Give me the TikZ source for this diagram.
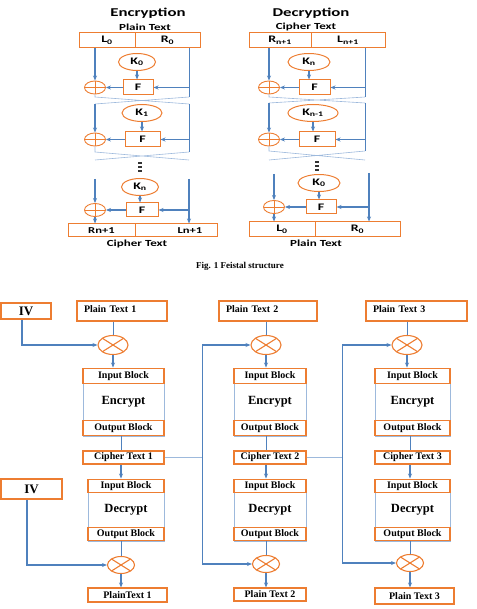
\documentclass[tikz,border=0pt]{standalone}
\usepackage{fontspec}
\setmainfont{Liberation Serif}
\newfontfamily\feis[FakeStretch=1.4]{Carlito}
\usetikzlibrary{positioning,arrows.meta,shapes.geometric,calc}
\definecolor{naranja}{HTML}{ED7D31}
\definecolor{azul}{HTML}{4F81BD}
\definecolor{celeste}{HTML}{9DB9DC}
\newcommand\tam[1]{\fontsize{#1}{#1}\selectfont}

\begin{document}
\begin{tikzpicture}[x=1pt,y=-1pt,
    caja/.style={draw=naranja,line width=1pt,inner sep=0pt,fill=white,font=\feis\bfseries\tam{10}},
    clave/.style={ellipse,draw=naranja,line width=1pt,inner sep=0pt,minimum height=17pt,
                  font=\feis\bfseries\tam{10}},
    suma/.style={ellipse,draw=naranja,line width=0.9pt,minimum width=21pt,minimum height=13pt,inner sep=0pt,
                 path picture={\draw[naranja,line width=0.9pt]
                   (path picture bounding box.north) -- (path picture bounding box.south)
                   (path picture bounding box.west) -- (path picture bounding box.east);}},
    titulo/.style={font=\feis\bfseries\tam{12}},
    rotulo/.style={font=\feis\bfseries\tam{9.3}},
    fl/.style={-{Stealth[length=5pt,width=4pt]},draw=azul,line width=1.2pt},
    ln/.style={draw=azul,line width=1pt},
    cruce/.style={draw=celeste,line width=0.6pt},
    bloque/.style={draw=naranja,line width=1.1pt,inner sep=0pt,fill=white,font=\bfseries\tam{10}},
    entrada/.style={bloque,minimum height=20pt,text depth=4pt,inner xsep=7pt,align=left},
    marco/.style={draw=celeste,line width=0.9pt,inner sep=0pt,font=\bfseries\tam{12.5}},
    xor/.style={ellipse,draw=naranja,line width=1.1pt,inner sep=0pt,minimum width=30pt,minimum height=19pt,
                path picture={\draw[naranja,line width=1.1pt]
                  ($(path picture bounding box.center)!0.707!(path picture bounding box.north east)$) --
                  ($(path picture bounding box.center)!0.707!(path picture bounding box.south west)$)
                  ($(path picture bounding box.center)!0.707!(path picture bounding box.north west)$) --
                  ($(path picture bounding box.center)!0.707!(path picture bounding box.south east)$);}}]
  \useasboundingbox (0,0) rectangle (476,609);

  % Feistel: encryption
  \node[titulo] (encTit) at (148,13) {Encryption};
  \node[rotulo] (encPT) at (145,27) {Plain Text};
  \node[caja,minimum width=56pt,minimum height=15pt] (eL0) at (107,40.5) {L\textsubscript{0}};
  \node[caja,minimum width=65pt,minimum height=15pt] (eR0) at (167.5,40.5) {R\textsubscript{0}};
  \node[clave,minimum width=37pt] (eK0) at (137,62) {K\textsubscript{0}};
  \node[caja,minimum width=30pt,minimum height=15pt] (eF0) at (138,87.5) {F};
  \node[suma] (eX0) at (95,87.5) {};
  \node[clave,minimum width=40pt] (eK1) at (142,113) {K\textsubscript{1}};
  \node[caja,minimum width=35pt,minimum height=15pt] (eF1) at (142.5,139.5) {F};
  \node[suma] (eX1) at (95,139.5) {};
  \node[clave,minimum width=37pt] (eKn) at (140,187) {K\textsubscript{n}};
  \node[caja,minimum width=32pt,minimum height=14pt] (eFn) at (142,210) {F};
  \node[suma] (eXn) at (95,210) {};
  \node[caja,minimum width=67pt,minimum height=13pt,font=\feis\bfseries\tam{9}] (eRn) at (101.5,230.5) {Rn+1};
  \node[caja,minimum width=82pt,minimum height=13pt,
        label={[font=\feis\bfseries\tam{9},xshift=14pt]center:Ln+1}] (eLn) at (176,230.5) {};
  \node[rotulo] (encCT) at (137,243.5) {Cipher Text};
  \foreach \k in {0,1,2} \fill[black!80] (137.5,162+4*\k) rectangle ++(4,2);

  \coordinate (eI1) at (95,97);  \coordinate (eD1) at (189,97);
  \coordinate (eI2) at (95,104); \coordinate (eD2) at (189,104);
  \coordinate (eI3) at (95,152); \coordinate (eD3) at (189,152);
  \coordinate (eI4) at (95,160); \coordinate (eD4) at (189,160);
  \coordinate (eI5) at (95,179); \coordinate (eD5) at (189,179);

  \draw[fl] (eX0 |- eL0.south) -- (eX0.north);
  \draw[ln] (eD1 |- eR0.south) -- (eD1);
  \draw[cruce] (eX0.south) -- (eI1) -- (eD2) (eD1) -- (eI2);
  \draw[fl] (eI2) -- (eX1.north);
  \draw[ln] (eD2) -- (eD3);
  \draw[cruce] (eX1.south) -- (eI3) -- (eD4) (eD3) -- (eI4);
  \draw[fl] (eI5) -- (eXn.north);
  \draw[fl] (eD5) -- (eD5 |- eLn.north);
  \draw[fl] (eXn.south) -- (eXn |- eRn.north);
  \foreach \r in {0,1,n} {
    \draw[fl] (eK\r.south) -- (eK\r.south |- eF\r.north);
    \draw[fl] (eF\r.west) -- (eX\r.east);
  }
  \foreach \f/\c in {eF0/eD1,eF1/eD3,eFn/eD5} \draw[fl] (\c |- \f) -- (\f.east);

  % Feistel: decryption
  \node[titulo] (decTit) at (311,13) {Decryption};
  \node[rotulo] (decCT) at (306,27) {Cipher Text};
  \node[caja,minimum width=62pt,minimum height=15pt] (dRn) at (280,40.5) {R\textsubscript{n+1}};
  \node[caja,minimum width=74pt,minimum height=15pt] (dLn) at (348,40.5) {L\textsubscript{n+1}};
  \node[clave,minimum width=42pt] (dK1) at (309,62) {K\textsubscript{n}};
  \node[caja,minimum width=31pt,minimum height=15pt] (dF1) at (314.5,87.5) {F};
  \node[suma] (dX1) at (269,87.5) {};
  \node[clave,minimum width=50pt] (dK2) at (313,113) {K\textsubscript{n-1}};
  \node[caja,minimum width=36pt,minimum height=15pt] (dF2) at (317,139.5) {F};
  \node[suma] (dX2) at (269,139.5) {};
  \node[clave,minimum width=42pt] (dK3) at (319,183) {K\textsubscript{0}};
  \node[caja,minimum width=30pt,minimum height=14pt] (dF3) at (321,207) {F};
  \node[suma] (dX3) at (274,207) {};
  \node[caja,minimum width=66pt,minimum height=15pt] (dL0) at (282,229.5) {L\textsubscript{0}};
  \node[caja,minimum width=85pt,minimum height=15pt] (dR0) at (357.5,229.5) {R\textsubscript{0}};
  \node[rotulo] (decPT) at (316,243.5) {Plain Text};
  \foreach \k in {0,1,2} \fill[black!80] (315,161+4*\k) rectangle ++(4,2);

  \coordinate (dI1) at (269,97);  \coordinate (dD1) at (365,97);
  \coordinate (dI2) at (269,103); \coordinate (dD2) at (365,103);
  \coordinate (dI3) at (269,151); \coordinate (dD3) at (365,151);
  \coordinate (dI4) at (269,160); \coordinate (dD4) at (365,160);
  \coordinate (dI5) at (274,174); \coordinate (dD5) at (369,173);

  \draw[fl] (dX1 |- dRn.south) -- (dX1.north);
  \draw[ln] (dD1 |- dLn.south) -- (dD1);
  \draw[cruce] (dX1.south) -- (dI1) -- (dD2) (dD1) -- (dI2);
  \draw[fl] (dI2) -- (dX2.north);
  \draw[ln] (dD2) -- (dD3);
  \draw[cruce] (dX2.south) -- (dI3) -- (dD4) (dD3) -- (dI4);
  \draw[fl] (dI5) -- (dX3.north);
  \draw[fl] (dD5) -- (dD5 |- dR0.north);
  \draw[fl] (dX3.south) -- (dX3 |- dL0.north);
  \foreach \r in {1,2,3} {
    \draw[fl] (dK\r.south) -- (dK\r.south |- dF\r.north);
    \draw[fl] (dF\r.west) -- (dX\r.east);
  }
  \foreach \f/\c in {dF1/dD1,dF2/dD3,dF3/dD5} \draw[fl] (\c |- \f) -- (\f.east);

  \node[font=\bfseries\tam{9}] (cap) at (240,266) {Fig. 1 Feistal structure};

  % CBC mode
  \node[bloque,minimum width=50pt,minimum height=16pt,font=\bfseries\tam{13}] (iv1) at (26,311) {IV};
  \node[entrada,text width=76pt] (pt1) at (122,311) {Plain Text 1};
  \node[entrada,text width=84pt] (pt2) at (268,311) {Plain Text 2};
  \node[entrada,text width=87pt] (pt3) at (416.5,311) {Plain Text 3};
  \node[xor] (xe1) at (113,345) {};
  \node[xor] (xe2) at (266,345) {};
  \node[xor] (xe3) at (407,345) {};
  \foreach \i/\x/\w in {1/123.5/81,2/270/72,3/412.5/75} {
    \node[marco,minimum width=\w,minimum height=68pt] (enc\i) at (\x,402) {Encrypt};
    \node[bloque,minimum width=\w,minimum height=15pt,anchor=north] (in\i) at (enc\i.north) {Input Block};
    \node[bloque,minimum width=\w,minimum height=15pt,anchor=south] (out\i) at (enc\i.south) {Output Block};
    \node[bloque,minimum width=\w,minimum height=13pt] (ct\i) at (\x,457.5) {Cipher Text \i};
  }
  \node[bloque,minimum width=61pt,minimum height=20pt,font=\bfseries\tam{13}] (iv2) at (31.5,489) {IV};
  \foreach \i/\x/\w in {1/126/76,2/270/72,3/412.5/75} {
    \node[marco,minimum width=\w,minimum height=62pt] (dec\i) at (\x,510) {Decrypt};
    \node[bloque,minimum width=\w,minimum height=13pt,anchor=north] (din\i) at (dec\i.north) {Input Block};
    \node[bloque,minimum width=\w,minimum height=13pt,anchor=south] (dout\i) at (dec\i.south) {Output Block};
  }
  \node[xor,minimum width=27pt,minimum height=17pt] (xd1) at (121,565) {};
  \node[xor,minimum width=27pt,minimum height=17pt] (xd2) at (266,564) {};
  \node[xor,minimum width=27pt,minimum height=17pt] (xd3) at (410,563) {};
  \node[bloque,minimum width=79pt,minimum height=14pt] (pp1) at (127.5,595) {PlainText 1};
  \node[bloque,minimum width=72pt,minimum height=13pt] (pp2) at (270,594.5) {Plain Text 2};
  \node[bloque,minimum width=79pt,minimum height=16pt] (pp3) at (414.5,596) {Plain Text 3};

  \foreach \i in {1,2,3} {
    \draw[ln] (xe\i |- pt\i.south) -- (xe\i.north);
    \draw[fl] (xe\i.south) -- (xe\i |- in\i.north);
    \draw[ln] (xd\i |- out\i.south) -- (xd\i |- ct\i.north);
    \draw[fl] (xd\i |- ct\i.south) -- (xd\i |- din\i.north);
    \draw[ln] (xd\i |- dout\i.south) -- (xd\i.north);
    \draw[fl] (xd\i.south) -- (xd\i |- pp\i.north);
  }
  \draw[fl] ([xshift=-4pt]iv1.south) |- (xe1.west);
  \draw[fl] ([xshift=-4.5pt]iv2.south) |- (xd1.west);

  \coordinate (r1a) at (202,345); \coordinate (r1b) at (202,564);
  \coordinate (r2a) at (342,345); \coordinate (r2b) at (342,563);
  \draw[ln] (r1a) -- (r1b);
  \draw[ln] (r2a) -- (r2b);
  \draw[fl] (r1a) -- (xe2.west);
  \draw[fl] (r1b) -- (xd2.west);
  \draw[fl] (r2a) -- (xe3.west);
  \draw[fl] (r2b) -- (xd3.west);
  \draw[cruce] (ct1.east) -- (ct1.east -| r1a);
  \draw[cruce] (ct2.east) -- (ct2.east -| r2a);
\end{tikzpicture}
\end{document}
